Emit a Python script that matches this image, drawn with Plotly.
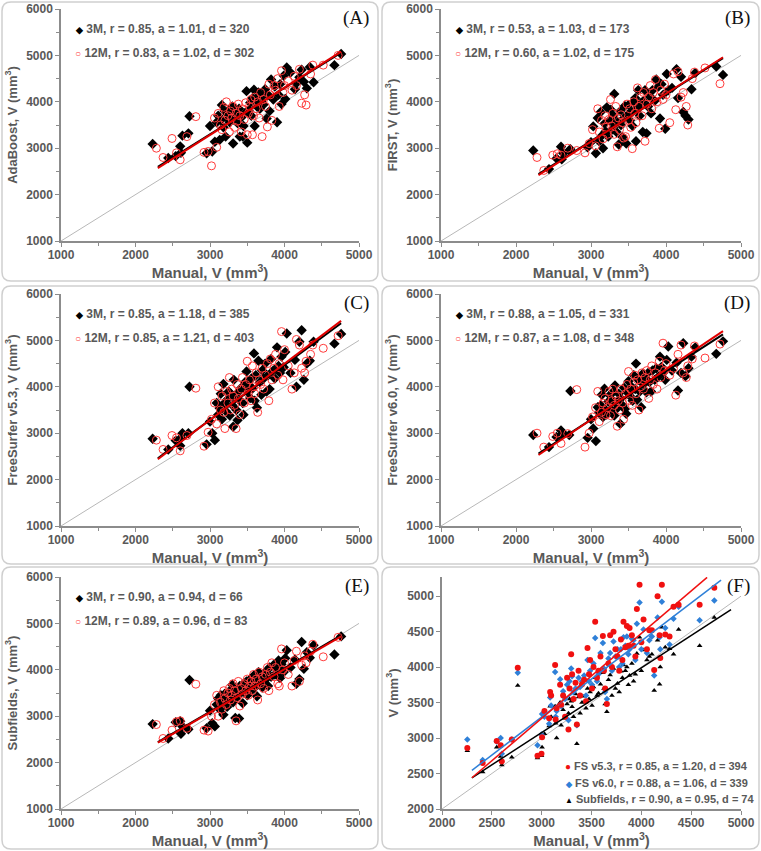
import plotly.graph_objects as go

W, H = 761, 851
FONT = "Liberation Sans, Arial, sans-serif"
GRAY_TXT = "#595959"
AXIS_COL = "#8c8c8c"
RED = "#ff3b3b"
BLUE = "#2f80d8"

# ---- manual volumes (x) ----
manual_3m = [2230, 2440, 2540, 2600, 2610, 2630, 2710, 2725, 2955, 3000, 3030, 3065, 3090, 3110, 3130, 3145,
             3160, 3180, 3195, 3210, 3230, 3250, 3265, 3280, 3300, 3310, 3320, 3340, 3355, 3370, 3390, 3400,
             3420, 3440, 3450, 3470, 3490, 3500, 3520, 3540, 3555, 3570, 3590, 3600, 3615, 3630, 3650, 3670,
             3690, 3700, 3720, 3740, 3760, 3780, 3800, 3820, 3850, 3870, 3900, 3920, 3940, 3960, 3990, 4010,
             4030, 4080, 4140, 4160, 4200, 4230, 4260, 4300, 4340, 4390, 4670, 4760]
manual_12m = [2280, 2370, 2490, 2550, 2600, 2690, 2810, 2920, 2975, 3020, 3060, 3090, 3110, 3140, 3160, 3185,
              3200, 3220, 3240, 3260, 3275, 3290, 3310, 3330, 3350, 3365, 3380, 3400, 3420, 3435, 3460, 3480,
              3500, 3515, 3530, 3550, 3570, 3585, 3600, 3620, 3640, 3660, 3680, 3700, 3720, 3745, 3770, 3790,
              3810, 3830, 3860, 3880, 3910, 3930, 3960, 3980, 4000, 4050, 4100, 4130, 4160, 4200, 4230, 4270,
              4290, 4350, 4380, 4520, 4720]

# ---- method volumes, 3M ----
adaboost_3m = [3090, 2790, 2830, 3040, 2900, 3270, 3320, 3690, 2890, 3480, 2930, 3140, 3560, 3700, 3180, 3600,
               3930, 3450, 3800, 3250, 3650, 3820, 3560, 3740, 3900, 3100, 3620, 3840, 3700, 3540, 3850, 3250,
               3660, 3250, 3480, 3760, 4230, 3120, 3820, 3980, 3700, 4080, 4260, 3480, 4060, 3900, 4200, 3850,
               4000, 4120, 3940, 4270, 3640, 4150, 3800, 4480, 4050, 4330, 3560, 4150, 4380, 3950, 4560, 4060,
               4740, 4630, 4270, 4400, 4530, 4690, 4430, 4290, 4750, 4420, 4790, 5030]
first_3m = [2950, 2550, 2780, 3030, 2760, 2890, 2950, 2980, 3020, 3130, 3470, 2890, 3650, 3150, 3780, 3270,
            3000, 3530, 3360, 3880, 3250, 3600, 3830, 3400, 3700, 4170, 3500, 3350, 3560, 3080, 3800, 3500,
            3240, 3650, 3910, 3100, 3720, 3930, 3600, 3780, 3480, 4000, 4080, 3150, 3870, 4250, 3700, 3980,
            3350, 4020, 4250, 3320, 3900, 4120, 3750, 4250, 4020, 4480, 4330, 3640, 4380, 4150, 3420, 4600,
            4250, 4300, 4700, 4080, 4540, 3780, 3700, 3620, 4270, 4620, 4760, 4580]
fs53_3m = [2880, 2650, 2840, 2730, 2900, 3000, 3000, 4000, 2760, 3250, 3000, 2850, 3650, 3400, 3540, 3850,
           3300, 4060, 3650, 3480, 3720, 3900, 3380, 3850, 3600, 3140, 4150, 3750, 3500, 3280, 3900, 3700,
           3980, 3650, 3400, 4100, 4330, 3900, 4050, 3760, 4180, 3960, 4720, 3700, 4250, 3550, 4560, 4100,
           3830, 4350, 4180, 4500, 3900, 4250, 3950, 4600, 4350, 4180, 4850, 4450, 4300, 4650, 4420, 4750,
           5150, 4300, 4580, 4000, 4970, 5220, 4150, 4500, 4560, 4970, 4930, 5140]
fs60_3m = [2960, 2700, 2920, 3060, 2980, 3000, 2960, 3910, 2900, 3300, 3100, 2830, 3560, 3450, 3600, 3830,
           3350, 3960, 3500, 3400, 3680, 3820, 3500, 3720, 3900, 3380, 4030, 3650, 3550, 3850, 3200, 3750,
           3600, 3980, 3520, 3420, 3870, 4120, 3800, 4000, 3700, 4250, 3950, 4500, 3720, 4150, 3900, 3560,
           4280, 4050, 4200, 3880, 4300, 4100, 3900, 4350, 4150, 4400, 4220, 4650, 4430, 4300, 4150, 4580,
           4870, 4350, 4520, 3920, 4300, 4940, 4230, 4400, 4650, 4850, 4710, 4980]
subfields_3m = [2830, 2520, 2870, 2890, 2620, 2780, 2720, 3780, 2740, 3120, 2850, 2780, 3250, 3380, 3150, 3450,
                3300, 3030, 3480, 3350, 3200, 3420, 3550, 3380, 3680, 3300, 3500, 2960, 3580, 3420, 2950, 3650,
                3520, 3280, 3700, 3600, 3750, 3450, 3680, 3800, 3550, 3720, 3880, 3620, 3780, 3430, 3950, 3700,
                3850, 3620, 3900, 3780, 3980, 3650, 4050, 3850, 4100, 3900, 4000, 4200, 3820, 4120, 3950, 4250,
                4420, 4050, 4220, 3700, 3800, 4600, 4020, 4380, 4260, 4530, 4330, 4720]

# ---- method volumes, 12M ----
adaboost_12m = [3000, 2800, 3210, 2900, 2750, 3250, 3680, 2910, 2930, 2620, 3650, 3020, 3750, 3500, 3400, 3880,
                3600, 4000, 3700, 3350, 3800, 3650, 3900, 3450, 3750, 3580, 3950, 3700, 3350, 3850, 3620, 3980,
                3290, 3750, 3900, 4050, 3290, 3700, 4100, 3850, 4000, 3650, 4200, 3250, 4050, 3900, 3460, 4380,
                4150, 3600, 4350, 4250, 4500, 3900, 4670, 4200, 4350, 4450, 4250, 4550, 4350, 4700, 3970, 4150,
                3930, 4600, 4790, 4790, 5000]
first_12m = [2800, 2520, 2850, 2880, 2850, 3000, 2950, 2900, 3100, 3400, 3050, 3850, 3350, 3600, 3200, 3700,
             3450, 3300, 3620, 4050, 3480, 3750, 3300, 3900, 3030, 3650, 3400, 3720, 3550, 3220, 3250, 3950,
             3600, 3850, 3450, 2990, 4000, 3750, 3550, 4300, 3900, 4100, 3700, 4200, 3150, 3950, 4100, 4350,
             3850, 4200, 4480, 4000, 3430, 4250, 4050, 4380, 4150, 3550, 4600, 3830, 4650, 4100, 4200, 3900,
             3500, 4500, 4640, 4730, 4390]
fs53_12m = [2850, 2650, 2950, 2900, 2620, 2950, 3970, 2720, 3020, 3300, 3650, 3200, 4000, 3500, 3800, 3450,
            3100, 3900, 3650, 4200, 3500, 3950, 3800, 3600, 3100, 4050, 3750, 3400, 3950, 4200, 3650, 4050,
            4550, 3850, 4150, 3700, 4450, 4000, 3850, 4300, 3450, 4150, 4050, 4400, 3950, 4250, 4500, 3700,
            4600, 4150, 4400, 4700, 4250, 4500, 5190, 4150, 4800, 4450, 3950, 4300, 5020, 4900, 4400, 4300,
            4550, 4700, 4900, 4830, 5100]
fs60_12m = [3000, 2700, 2930, 3000, 2780, 2990, 3940, 2700, 3000, 3350, 3550, 3900, 3250, 3450, 3650, 3750,
            3400, 3550, 3900, 3380, 3700, 3950, 3600, 3800, 3150, 3700, 3500, 3950, 3650, 3300, 3850, 4050,
            4330, 3700, 3950, 3600, 4100, 4250, 3850, 4150, 3500, 4000, 4300, 3950, 4200, 4350, 3750, 4150,
            4450, 4050, 4300, 3950, 4550, 4200, 4940, 4350, 4500, 4250, 4400, 3820, 4700, 4900, 4300, 4200,
            4450, 4600, 4880, 4620, 4920]
subfields_12m = [2820, 2520, 2700, 2880, 2900, 2740, 3690, 2700, 2680, 3000, 3250, 3450, 3000, 3300, 3150, 3550,
                 3380, 3250, 3500, 3600, 3350, 3450, 3700, 3550, 2900, 3400, 3750, 3220, 3600, 3480, 3700, 3550,
                 3800, 3450, 3650, 3750, 3550, 3900, 3650, 3800, 3350, 3950, 3700, 3850, 3600, 3900, 4050, 3550,
                 3950, 4150, 3850, 4050, 3700, 3650, 4450, 4000, 4150, 3900, 3650, 4200, 4400, 3750, 4100, 4300,
                 4150, 4400, 4550, 4280, 4700]

# ---- regression line end points [x0, x1], [y0, y1] ----
fit_x = [2300, 4760]
fit_y = {
    "A": ([2600, 5060], [2570, 5080]),
    "B": ([2440, 4940], [2420, 4960]),
    "C": ([2460, 5370], [2440, 5420]),
    "D": ([2560, 5130], [2530, 5200]),
    "E": ([2440, 4740], [2430, 4720]),
}
identity = [1000, 5000]

# ---- panel F (combined) ----
manual_f = [2254, 2408, 2549, 2589, 2600, 2700, 2760, 2958, 2998, 3004, 3028, 3075, 3085, 3095, 3135, 3140,
            3150, 3185, 3195, 3215, 3235, 3255, 3269, 3280, 3296, 3305, 3320, 3340, 3353, 3370, 3386, 3405,
            3426, 3445, 3460, 3475, 3486, 3505, 3520, 3537, 3555, 3570, 3590, 3614, 3625, 3637, 3654, 3670,
            3687, 3705, 3721, 3740, 3761, 3778, 3795, 3810, 3821, 3840, 3855, 3870, 3882, 3905, 3922, 3940,
            3955, 3982, 4000, 4022, 4056, 4080, 4106, 4129, 4163, 4183, 4190, 4206, 4240, 4283, 4323, 4374,
            4585, 4732]
fs53_f = [2860, 2650, 2960, 2900, 2670, 2980, 3990, 2750, 2780, 3010, 3380, 3280, 3650, 3600, 4030, 3260,
          3420, 3750, 3470, 3600, 3300, 3850, 3120, 3700, 4180, 3900, 3550, 3780, 3190, 3950, 3600, 3760,
          3820, 3520, 4270, 3900, 4100, 3700, 4000, 4640, 3850, 3950, 4150, 4440, 3950, 3700, 3480, 4050,
          4450, 4000, 4500, 4250, 4150, 3950, 4390, 4100, 4640, 4280, 4580, 4300, 4550, 4450, 4300, 4150,
          4820, 5160, 4350, 4670, 4250, 4520, 4520, 3960, 5000, 4450, 4130, 5160, 4460, 4430, 4850, 4880,
          4880, 5120]
fs60_f = [2980, 2690, 2950, 3000, 2780, 2980, 3920, 2900, 3050, 3340, 3300, 3200, 3570, 3460, 3930, 3300,
          3380, 3830, 3450, 3660, 3550, 3750, 3250, 3800, 3980, 3870, 3650, 3700, 3180, 3850, 3720, 3800,
          3880, 3600, 4100, 3800, 3950, 3750, 4050, 4410, 3800, 3900, 4200, 4340, 3980, 3650, 3550, 4120,
          4200, 3950, 4360, 4150, 4250, 4000, 4250, 4050, 4420, 4300, 4430, 4180, 4250, 4400, 4380, 4100,
          4610, 4910, 4250, 4530, 4200, 4380, 4430, 3880, 4700, 4420, 4250, 4920, 4550, 4320, 4680, 4850,
          4660, 4940]
subfields_f = [2820, 2520, 2870, 2740, 2620, 2730, 3740, 2720, 2750, 2870, 3060, 3170, 3450, 3300, 3450, 3210,
               3000, 3500, 3180, 3400, 3280, 3480, 3350, 3550, 3520, 3440, 3300, 3620, 2920, 3580, 3350, 3500,
               3590, 3420, 3700, 3550, 3650, 3460, 3720, 3850, 3600, 3630, 3760, 3920, 3700, 3480, 3370, 3820,
               3890, 3600, 3980, 3700, 3770, 3650, 3940, 3850, 4030, 3950, 4000, 3750, 3880, 4050, 3800, 3900,
               4190, 4420, 3950, 4240, 4100, 4150, 4180, 3670, 4380, 3760, 4000, 4560, 4280, 4260, 4180, 4530,
               4300, 4700]
fit_f_x = {"FS v5.3": [2300, 4660], "FS v6.0": [2300, 4800], "Subfields": [2300, 4900]}
fit_f_y = {"FS v5.3": [2440, 5265], "FS v6.0": [2545, 5225], "Subfields": [2440, 4810]}
identity_f = [2000, 5000]

panels = [
    ("A", "AdaBoost", adaboost_3m, adaboost_12m, "3M, r = 0.85, a = 1.01, d = 320", "12M, r = 0.83, a = 1.02, d = 302"),
    ("B", "FIRST", first_3m, first_12m, "3M, r = 0.53, a = 1.03, d = 173", "12M, r = 0.60, a = 1.02, d = 175"),
    ("C", "FreeSurfer v5.3", fs53_3m, fs53_12m, "3M, r = 0.85, a = 1.18, d = 385", "12M, r = 0.85, a = 1.21, d = 403"),
    ("D", "FreeSurfer v6.0", fs60_3m, fs60_12m, "3M, r = 0.88, a = 1.05, d = 331", "12M, r = 0.87, a = 1.08, d = 348"),
    ("E", "Subfields", subfields_3m, subfields_12m, "3M, r = 0.90, a = 0.94, d = 66", "12M, r = 0.89, a = 0.96, d = 83"),
]
f_legend = ["FS v5.3, r = 0.85, a = 1.20, d = 394",
            "FS v6.0, r = 0.88, a = 1.06, d = 339",
            "Subfields, r = 0.90, a = 0.95, d = 74"]

# layout in pixels
plot_px = {  # x0, x1, ytop, ybottom
    "A": (61, 359, 9, 241), "B": (441, 741, 9, 241),
    "C": (61, 359, 294, 526), "D": (441, 741, 294, 526),
    "E": (61, 359, 577, 809), "F": (442, 741, 577, 809),
}
box_px = {
    "A": (2, 2, 378, 281), "B": (382, 2, 759, 281),
    "C": (2, 286, 378, 564), "D": (382, 286, 759, 564),
    "E": (2, 567, 378, 849), "F": (382, 567, 759, 849),
}


def X(v):
    return v / W


def Y(v):
    return 1 - v / H


def rbox(x0, y0, x1, y1, r=9):
    pts = [
        f"M{X(x0 + r)},{Y(y0)}", f"L{X(x1 - r)},{Y(y0)}", f"Q{X(x1)},{Y(y0)} {X(x1)},{Y(y0 + r)}",
        f"L{X(x1)},{Y(y1 - r)}", f"Q{X(x1)},{Y(y1)} {X(x1 - r)},{Y(y1)}",
        f"L{X(x0 + r)},{Y(y1)}", f"Q{X(x0)},{Y(y1)} {X(x0)},{Y(y1 - r)}",
        f"L{X(x0)},{Y(y0 + r)}", f"Q{X(x0)},{Y(y0)} {X(x0 + r)},{Y(y0)}", "Z",
    ]
    return " ".join(pts)


fig = go.Figure()
tickfont = dict(family=FONT, size=12, color=GRAY_TXT, weight="bold")


def axis_pair(i, key, ytitle, xr, yr, xd, yd, minor=True):
    x0, x1, yt, yb = plot_px[key]
    xa = dict(domain=[X(x0), X(x1)], range=xr, dtick=xd, anchor=f"y{i}", automargin=False,
              showline=True, linecolor=AXIS_COL, linewidth=1.5, ticks="outside", ticklen=4,
              tickcolor=AXIS_COL, showgrid=False, zeroline=False, tickfont=tickfont, ticklabelstandoff=-2,
              title=dict(text="Manual, V (mm<sup>3</sup>)", standoff=4,
                         font=dict(family=FONT, size=15, color=GRAY_TXT, weight="bold")))
    ya = dict(domain=[Y(yb), Y(yt)], range=yr, dtick=yd, anchor=f"x{i}", automargin=False,
              showline=True, linecolor=AXIS_COL, linewidth=1.5, ticks="outside", ticklen=4,
              tickcolor=AXIS_COL, showgrid=False, zeroline=False, tickfont=tickfont,
              title=dict(text=ytitle, standoff=6,
                         font=dict(family=FONT, size=13, color=GRAY_TXT, weight="bold")))
    if minor:
        xa["minor"] = dict(dtick=xd / 2, ticks="outside", ticklen=3, tickcolor=AXIS_COL, showgrid=False)
        ya["minor"] = dict(dtick=yd / 2, ticks="outside", ticklen=3, tickcolor=AXIS_COL, showgrid=False)
    sfx = "" if i == 1 else str(i)
    fig.update_layout(**{f"xaxis{sfx}": xa, f"yaxis{sfx}": ya})


shapes = []
annotations = []
leg_font = dict(family=FONT, size=12, color=GRAY_TXT, weight="bold")

for i, (key, name, y3, y12, lab3, lab12) in enumerate(panels, start=1):
    xs, ys = f"x{i}", f"y{i}"
    axis_pair(i, key, f"{name}, V (mm<sup>3</sup>)", [1000, 5000], [1000, 6000], 1000, 1000)
    fig.add_trace(go.Scatter(x=identity, y=identity, mode="lines", xaxis=xs, yaxis=ys,
                             line=dict(color="#b8b8b8", width=1), showlegend=False, hoverinfo="skip"))
    fig.add_trace(go.Scatter(x=manual_3m, y=y3, mode="markers", xaxis=xs, yaxis=ys, name="3M",
                             marker=dict(symbol="diamond", size=8, color="black"), showlegend=False))
    fig.add_trace(go.Scatter(x=manual_12m, y=y12, mode="markers", xaxis=xs, yaxis=ys, name="12M",
                             marker=dict(symbol="circle-open", size=8, color=RED, line=dict(width=1)),
                             showlegend=False))
    f3, f12 = fit_y[key]
    fig.add_trace(go.Scatter(x=fit_x, y=f3, mode="lines", xaxis=xs, yaxis=ys,
                             line=dict(color="black", width=2), showlegend=False))
    fig.add_trace(go.Scatter(x=fit_x, y=f12, mode="lines", xaxis=xs, yaxis=ys,
                             line=dict(color="#e00000", width=2), showlegend=False))

    px0, px1, pyt, pyb = plot_px[key]
    annotations.append(dict(xref="paper", yref="paper", x=X(px0 + 12), y=Y(pyt + 20), xanchor="left",
                            yanchor="middle", showarrow=False, font=leg_font,
                            text=f"<span style='font-size:9px;color:black'>◆</span> {lab3}"))
    annotations.append(dict(xref="paper", yref="paper", x=X(px0 + 12), y=Y(pyt + 44), xanchor="left",
                            yanchor="middle", showarrow=False, font=leg_font,
                            text=f"<span style='font-size:10px;color:{RED}'>○</span> {lab12}"))

# panel F
axis_pair(6, "F", "V (mm<sup>3</sup>)", [2000, 5000], [2000, 5270], 500, 500, minor=False)
fig.add_trace(go.Scatter(x=identity_f, y=identity_f, mode="lines", xaxis="x6", yaxis="y6",
                         line=dict(color="#b8b8b8", width=1), showlegend=False, hoverinfo="skip"))
fig.add_trace(go.Scatter(x=manual_f, y=subfields_f, mode="markers", xaxis="x6", yaxis="y6",
                         marker=dict(symbol="triangle-up", size=5, color="black"), showlegend=False))
fig.add_trace(go.Scatter(x=manual_f, y=fs60_f, mode="markers", xaxis="x6", yaxis="y6",
                         marker=dict(symbol="diamond", size=5, color=BLUE), showlegend=False))
fig.add_trace(go.Scatter(x=manual_f, y=fs53_f, mode="markers", xaxis="x6", yaxis="y6",
                         marker=dict(symbol="circle", size=6, color="#f01010"), showlegend=False))
for nm, col in [("Subfields", "black"), ("FS v6.0", BLUE), ("FS v5.3", "#f01010")]:
    fig.add_trace(go.Scatter(x=fit_f_x[nm], y=fit_f_y[nm], mode="lines", xaxis="x6", yaxis="y6",
                             line=dict(color=col, width=1.5), showlegend=False))

f_marks = ["<span style='font-size:10px;color:#f01010'>●</span>",
           f"<span style='font-size:8px;color:{BLUE}'>◆</span>",
           "<span style='font-size:8px;color:black'>▲</span>"]
f_font = dict(family=FONT, size=11, color=GRAY_TXT, weight="bold")
for k, (mk, lab) in enumerate(zip(f_marks, f_legend)):
    annotations.append(dict(xref="paper", yref="paper", x=X(563), y=Y(766 + 16.5 * k), xanchor="left",
                            yanchor="middle", showarrow=False, font=f_font, text=f"{mk} {lab}"))

# panel boxes and letters
for key in ["A", "B", "C", "D", "E", "F"]:
    bx0, by0, bx1, by1 = box_px[key]
    shapes.append(dict(type="path", xref="paper", yref="paper", path=rbox(bx0, by0, bx1, by1),
                       line=dict(color="#cfcfcf", width=1.5), layer="below"))
    px0, px1, pyt, pyb = plot_px[key]
    annotations.append(dict(xref="paper", yref="paper", x=X(bx1 - 7), y=Y(pyt + 9), xanchor="right",
                            yanchor="middle", showarrow=False, text=f"({key})",
                            font=dict(family="Liberation Serif, Times New Roman, serif", size=19, color="#111")))

fig.update_layout(width=W, height=H, margin=dict(l=0, r=0, t=0, b=0, autoexpand=False),
                  paper_bgcolor="white", plot_bgcolor="white",
                  shapes=shapes, annotations=annotations, showlegend=False)

# the default page keeps an 8px body margin; drop it so the figure fills the window
fig.write_html("out.html", config={"displayModeBar": False},
               post_script="document.body.style.margin='0px';")
